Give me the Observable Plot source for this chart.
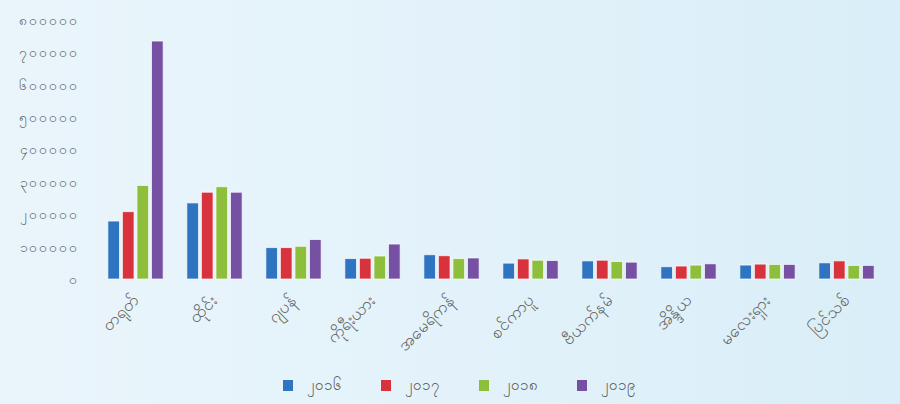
<!DOCTYPE html>
<html>
<head>
<meta charset="utf-8">
<script src="https://cdn.jsdelivr.net/npm/d3@7"></script>
<script src="https://cdn.jsdelivr.net/npm/@observablehq/plot@0.6"></script>
<style>
  html, body { margin: 0; padding: 0; }
  body {
    width: 900px; height: 404px; overflow: hidden;
    background: linear-gradient(90deg, #eaf5fb 0%, #e3f2fa 50%, #d9eef8 100%);
    font-family: "Noto Sans", "DejaVu Sans", sans-serif;
  }
  #chart svg { background: transparent; display: block; }
  #legend { display: flex; justify-content: center; align-items: center; margin-top: 12px; padding-left: 18px; }
  .item { display: flex; align-items: center; margin: 0 19.5px; font-size: 15px; color: #555; }
  .sw { width: 10px; height: 11px; margin-right: 14px; }
</style>
</head>
<body>
<div id="chart"></div>
<div id="legend"></div>
<script>
const categories = ["တရုတ်", "ထိုင်း", "ဂျပန်", "ကိုရီးယား", "အမေရိကန်", "စင်ကာပူ", "ဗီယက်နမ်", "အိန္ဒိယ", "မလေးရှား", "ပြင်သစ်"];
const years = ["၂၀၁၆", "၂၀၁၇", "၂၀၁၈", "၂၀၁၉"];
const v2016 = [179000, 235000, 97000, 63000, 75000, 49000, 56000, 38000, 43000, 50000];
const v2017 = [208000, 268000, 97000, 64000, 72000, 62000, 58000, 40000, 46000, 56000];
const v2018 = [289000, 285000, 101000, 71000, 63000, 58000, 54000, 43000, 45000, 42000];
const v2019 = [735000, 268000, 122000, 108000, 65000, 57000, 52000, 47000, 45000, 42000];
const yTicks = [0, 100000, 200000, 300000, 400000, 500000, 600000, 700000, 800000];
const yTickLabels = ["၀", "၁၀၀၀၀၀", "၂၀၀၀၀၀", "၃၀၀၀၀၀", "၄၀၀၀၀၀", "၅၀၀၀၀၀", "၆၀၀၀၀၀", "၇၀၀၀၀၀", "၈၀၀၀၀၀"];
const colors = ["#2f74c0", "#d8333d", "#8dbf3c", "#7650a3"];

const series = [v2016, v2017, v2018, v2019];
const data = [];
categories.forEach((c, i) => {
  years.forEach((y, j) => data.push({category: c, year: y, value: series[j][i]}));
});

const chart = Plot.plot({
  width: 900,
  height: 362,
  marginTop: 20,
  marginBottom: 83,
  marginLeft: 96,
  marginRight: 14,
  style: {background: "transparent", fontFamily: "'Noto Sans', 'DejaVu Sans', sans-serif", color: "#666"},
  fx: {domain: categories, paddingInner: 0.3, paddingOuter: 0.15, round: false, label: null, axis: "bottom", tickRotate: -45, tickSize: 0, tickPadding: 18},
  x: {domain: years, axis: null, paddingInner: 0.2, paddingOuter: 0, round: false},
  y: {domain: [0, 800000], ticks: yTicks, tickFormat: d => yTickLabels[yTicks.indexOf(d)], tickSize: 0, tickPadding: 29, label: null},
  color: {domain: years, range: colors},
  marks: [
    Plot.barY(data, {fx: "category", x: "year", y: "value", fill: "year", stroke: "white", strokeWidth: 1, strokeOpacity: 0.7})
  ]
});
chart.querySelectorAll("g[aria-label]").forEach(g => {
  const a = g.getAttribute("aria-label");
  if (a.startsWith("y-axis tick label")) { g.setAttribute("font-size", "14"); g.setAttribute("letter-spacing", "1"); }
  if (a.startsWith("fx-axis tick label")) { g.setAttribute("font-size", "17"); }
});
document.getElementById("chart").appendChild(chart);

const legend = document.getElementById("legend");
years.forEach((y, j) => {
  const it = document.createElement("div");
  it.className = "item";
  const sw = document.createElement("div");
  sw.className = "sw";
  sw.style.background = colors[j];
  it.appendChild(sw);
  const t = document.createElement("span");
  t.textContent = y;
  it.appendChild(t);
  legend.appendChild(it);
});
</script>
</body>
</html>
